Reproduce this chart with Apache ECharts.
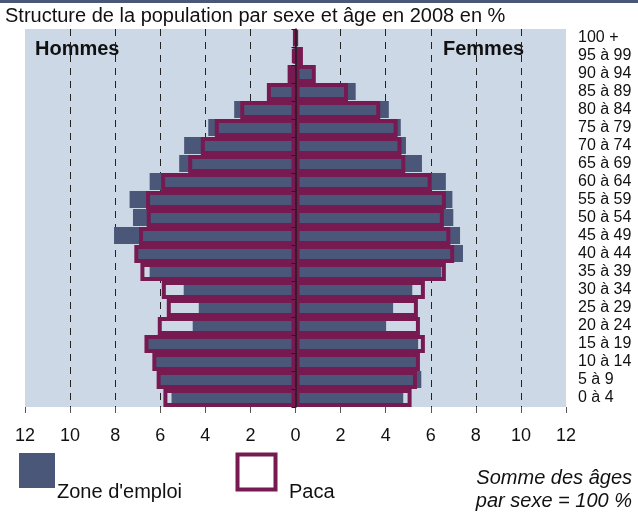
<!DOCTYPE html>
<html>
<head>
<meta charset="utf-8">
<script src="https://cdn.jsdelivr.net/npm/echarts@6/dist/echarts.min.js"></script>
<style>
  html, body { margin: 0; padding: 0; background: #fff; }
  #chart { width: 638px; height: 515px; }
</style>
</head>
<body>
<div id="chart"></div>
<script>
// tranches d'âge, du bas vers le haut
const ages = ['0 à 4', '5 à 9', '10 à 14', '15 à 19', '20 à 24', '25 à 29', '30 à 34', '35 à 39',
  '40 à 44', '45 à 49', '50 à 54', '55 à 59', '60 à 64', '65 à 69', '70 à 74', '75 à 79',
  '80 à 84', '85 à 89', '90 à 94', '95 à 99', '100 +']

// Hommes (%)
const hommesZone = [5.5, 6.1, 6.3, 6.6, 4.56, 4.29, 4.96, 6.47, 7.1, 8.05, 7.21, 7.36, 6.47, 5.16, 4.94, 3.87, 2.72, 1.2, 0.3, 0.1, 0.03]
const hommesPaca = [5.86, 6.16, 6.35, 6.7, 6.11, 5.71, 5.93, 6.88, 7.15, 6.94, 6.6, 6.63, 5.96, 4.76, 4.2, 3.58, 2.45, 1.27, 0.35, 0.15, 0.05]

// Femmes (%)
const femmesZone = [4.78, 5.58, 5.45, 5.44, 4.02, 4.33, 5.18, 6.47, 7.43, 7.3, 7.0, 6.96, 6.67, 5.61, 4.9, 4.67, 4.14, 2.67, 0.85, 0.25, 0.05]
const femmesPaca = [5.15, 5.39, 5.52, 5.74, 5.52, 5.43, 5.74, 6.67, 7.04, 6.87, 6.58, 6.67, 6.04, 4.87, 4.7, 4.53, 3.76, 2.33, 0.9, 0.33, 0.06]

const FONT = "'Liberation Sans', Arial, sans-serif"
const BLEU = '#4b5779'
const PRUNE = '#771a52'

const chart = echarts.init(document.getElementById('chart'))

const zoneStyle = { color: BLEU }
const pacaStyle = { color: 'rgba(0,0,0,0)', borderColor: PRUNE, borderWidth: 4 }

chart.setOption({
  animation: false,
  title: {
    text: 'Structure de la population par sexe et âge en 2008 en %',
    left: 5,
    top: 6,
    padding: 0,
    textStyle: { fontFamily: FONT, fontSize: 20, fontWeight: 'normal', color: '#111' }
  },
  grid: {
    left: 25, right: 72, top: 29, bottom: 108,
    show: true, backgroundColor: '#cdd8e6', borderWidth: 0
  },
  xAxis: {
    type: 'value',
    min: -12,
    max: 12,
    interval: 2,
    axisLine: { onZero: false, lineStyle: { color: '#555', width: 1.5 } },
    axisTick: { show: true, length: 6, lineStyle: { color: '#555' } },
    axisLabel: {
      margin: 20, fontFamily: FONT, fontSize: 18, color: '#111',
      formatter: v => Math.abs(v)
    },
    splitLine: {
      show: true, showMinLine: false, showMaxLine: false,
      lineStyle: { color: '#222', type: [7, 6], width: 1 }
    }
  },
  yAxis: [
    {
      type: 'category',
      data: ages,
      position: 'right',
      axisLine: { show: false, onZero: false },
      axisTick: { show: false },
      axisLabel: { interval: 0, margin: 12, fontFamily: FONT, fontSize: 16, color: '#111' }
    },
    {
      type: 'category',
      data: ages,
      position: 'left',
      z: 5,
      axisLine: { onZero: true, onZeroAxisIndex: 0, lineStyle: { color: '#1c1c1c', width: 1.5 } },
      axisTick: { show: true, interval: 0, length: 4, lineStyle: { color: '#1c1c1c' } },
      axisLabel: { show: false }
    }
  ],
  series: [
    {
      name: "Zone d'emploi", type: 'bar', barWidth: 17, barGap: '-100%', z: 2,
      data: hommesZone.map(v => -v), itemStyle: zoneStyle
    },
    {
      name: "Zone d'emploi", type: 'bar', barWidth: 17, barGap: '-100%', z: 2,
      data: femmesZone, itemStyle: zoneStyle
    },
    {
      name: 'Paca', type: 'bar', barWidth: 18, barGap: '-100%', z: 3,
      data: hommesPaca.map(v => -v), itemStyle: pacaStyle
    },
    {
      name: 'Paca', type: 'bar', barWidth: 18, barGap: '-100%', z: 3,
      data: femmesPaca, itemStyle: pacaStyle
    }
  ],
  graphic: [
    { type: 'rect', left: 0, top: 0, shape: { width: 638, height: 3 }, style: { fill: BLEU } },
    {
      type: 'text', x: 35, y: 49,
      style: { text: 'Hommes', font: 'bold 20px ' + FONT, fill: '#111', verticalAlign: 'middle' }
    },
    {
      type: 'text', x: 443, y: 49,
      style: { text: 'Femmes', font: 'bold 20px ' + FONT, fill: '#111', verticalAlign: 'middle' }
    },
    // légende
    { type: 'rect', shape: { x: 19, y: 453, width: 36, height: 35 }, style: { fill: BLEU } },
    {
      type: 'text', x: 57, y: 492,
      style: { text: "Zone d'emploi", font: '20px ' + FONT, fill: '#111', verticalAlign: 'middle' }
    },
    {
      type: 'rect', shape: { x: 237.5, y: 454.5, width: 38, height: 35 },
      style: { fill: '#fff', stroke: PRUNE, lineWidth: 4 }
    },
    {
      type: 'text', x: 289, y: 492,
      style: { text: 'Paca', font: '20px ' + FONT, fill: '#111', verticalAlign: 'middle' }
    },
    {
      type: 'text', x: 632, y: 478,
      style: { text: 'Somme des âges', font: 'italic 20px ' + FONT, fill: '#111', align: 'right', verticalAlign: 'middle' }
    },
    {
      type: 'text', x: 632, y: 501,
      style: { text: 'par sexe = 100 %', font: 'italic 20px ' + FONT, fill: '#111', align: 'right', verticalAlign: 'middle' }
    }
  ]
})
</script>
</body>
</html>
